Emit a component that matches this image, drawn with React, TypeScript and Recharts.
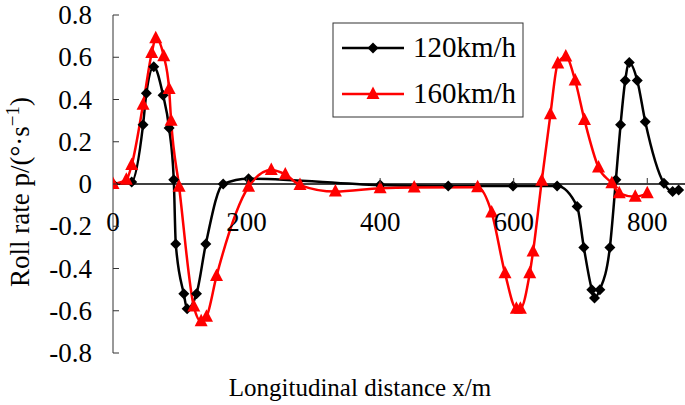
import React from "react";
import { LineChart, Line, XAxis, YAxis, ReferenceLine } from "recharts";

const x120 = [0, 28, 45, 50, 61, 75, 84, 91, 94, 106, 111, 125, 139, 165, 203, 400, 502, 599, 665, 695, 705, 717, 721, 729, 744, 753, 760, 767, 773, 785, 797, 825, 838, 847];
const y120 = [0, 0.01, 0.28, 0.43, 0.555, 0.42, 0.265, 0.02, -0.284, -0.52, -0.59, -0.52, -0.284, 0, 0.025, -0.005, -0.01, -0.01, -0.01, -0.107, -0.3, -0.5, -0.54, -0.5, -0.3, 0.02, 0.28, 0.49, 0.575, 0.49, 0.295, 0.003, -0.036, -0.028];

const x160 = [0, 20, 28, 45, 58, 64, 76, 84, 87, 99, 121, 132, 140, 155, 203, 237, 258, 280, 333, 400, 451, 546, 567, 587, 604, 610, 624, 629, 642, 655, 666, 678, 692, 706, 727, 747, 758, 782, 800];
const y160 = [0, 0.02, 0.09, 0.375, 0.62, 0.69, 0.605, 0.45, 0.3, -0.013, -0.58, -0.65, -0.628, -0.436, -0.013, 0.066, 0.045, -0.005, -0.036, -0.02, -0.016, -0.015, -0.135, -0.423, -0.59, -0.59, -0.423, -0.32, 0.015, 0.33, 0.57, 0.603, 0.49, 0.303, 0.078, 0.003, -0.044, -0.06, -0.044];

const xTicks = [0, 200, 400, 600, 800];
const yTicks = [-0.8, -0.6, -0.4, -0.2, 0, 0.2, 0.4, 0.6, 0.8];
const seriesNames = ["120km/h", "160km/h"];
const xLabel = "Longitudinal distance x/m";

const data120 = x120.map((x, i) => ({ x, y: y120[i] }));
const data160 = x160.map((x, i) => ({ x, y: y160[i] }));

const FONT = "Liberation Serif";
const txt = { fontFamily: FONT };
const PLOT_LEFT = 113;
const PLOT_TOP = 15;
const PLOT_BOTTOM = 353;
const ZERO_Y = (PLOT_TOP + PLOT_BOTTOM) / 2;

const Diamond = (props: any) => {
  const { cx, cy, index } = props;
  if (cx == null || cy == null) return <g key={"d" + index} />;
  const s = 5.5;
  return (
    <polygon
      key={"d" + index}
      points={`${cx},${cy - s} ${cx + s},${cy} ${cx},${cy + s} ${cx - s},${cy}`}
      fill="#000"
    />
  );
};

const Tri = (props: any) => {
  const { cx, cy, index } = props;
  if (cx == null || cy == null) return <g key={"t" + index} />;
  const w = 6.5;
  return (
    <polygon
      key={"t" + index}
      points={`${cx},${cy - 7.5} ${cx + w},${cy + 5} ${cx - w},${cy + 5}`}
      fill="#ff0000"
    />
  );
};

const YTick = (props: any) => {
  const { y, payload } = props;
  const v = payload.value;
  const label = v === 0 ? "0" : v.toFixed(1);
  return (
    <g>
      <line x1={PLOT_LEFT} x2={PLOT_LEFT + 6} y1={y} y2={y} stroke="#333" strokeWidth={1} />
      <text x={92} y={y} dy="0.34em" textAnchor="end" style={txt} fontSize={27} fill="#000">
        {label}
      </text>
    </g>
  );
};

const XTick = (props: any) => {
  const { x, payload } = props;
  return (
    <g>
      {payload.value !== 0 && (
        <line x1={x} x2={x} y1={ZERO_Y} y2={ZERO_Y - 6} stroke="#333" strokeWidth={1} />
      )}
      <text x={x} y={231} textAnchor="middle" style={txt} fontSize={27} fill="#000">
        {String(payload.value)}
      </text>
    </g>
  );
};

export default function App() {
  return (
    <div style={{ position: "absolute", left: 0, top: 0, width: 685, height: 405, overflow: "hidden", background: "#fff", fontFamily: FONT }}>
      <LineChart
        width={686}
        height={405}
        margin={{ top: PLOT_TOP, right: 0, bottom: 0, left: 0 }}
        style={txt}
      >
        <XAxis
          dataKey="x"
          type="number"
          domain={[0, 858]}
          ticks={xTicks}
          axisLine={false}
          tickLine={false}
          height={405 - PLOT_BOTTOM}
          tick={<XTick />}
          allowDataOverflow
        />
        <YAxis
          type="number"
          domain={[-0.8, 0.8]}
          ticks={yTicks}
          width={PLOT_LEFT}
          axisLine={{ stroke: "#333", strokeWidth: 1 }}
          tickLine={false}
          tick={<YTick />}
        />
        <ReferenceLine y={0} stroke="#000" strokeWidth={1.5} />
        <Line
          data={data120}
          dataKey="y"
          name={seriesNames[0]}
          type="monotone"
          stroke="#000"
          strokeWidth={2.5}
          dot={Diamond}
          activeDot={false}
          isAnimationActive={false}
        />
        <Line
          data={data160}
          dataKey="y"
          name={seriesNames[1]}
          type="monotone"
          stroke="#ff0000"
          strokeWidth={2.5}
          dot={Tri}
          activeDot={false}
          isAnimationActive={false}
        />
      </LineChart>
      <svg width={685} height={405} style={{ position: "absolute", left: 0, top: 0, pointerEvents: "none" }}>
        <text x={360} y={396} textAnchor="middle" style={txt} fontSize={25} fill="#000">
          {xLabel}
        </text>
        <text
          transform="translate(29,192) rotate(-90)"
          textAnchor="middle"
          style={txt}
          fontSize={27}
          fill="#000"
        >
          Roll rate p/(°·s
          <tspan dy={-10} fontSize={19}>−1</tspan>
          <tspan dy={10}>)</tspan>
        </text>
        <rect x={333} y={23} width={190} height={94} fill="#fff" stroke="#333" strokeWidth={1} />
        <line x1={342} x2={404} y1={48} y2={48} stroke="#000" strokeWidth={2.5} />
        <polygon points="373,42.5 378.5,48 373,53.5 367.5,48" fill="#000" />
        <text x={413} y={57} style={txt} fontSize={29} fill="#000">{seriesNames[0]}</text>
        <line x1={342} x2={404} y1={94} y2={94} stroke="#ff0000" strokeWidth={2.5} />
        <polygon points="373,86.5 379.5,99 366.5,99" fill="#ff0000" />
        <text x={413} y={103} style={txt} fontSize={29} fill="#000">{seriesNames[1]}</text>
      </svg>
    </div>
  );
}
